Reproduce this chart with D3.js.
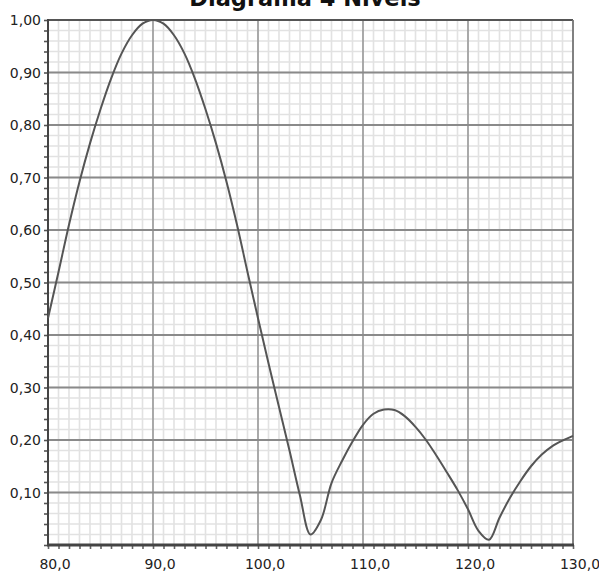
<!DOCTYPE html>
<html>
<head>
<meta charset="utf-8">
<script src="https://cdn.jsdelivr.net/npm/d3@7"></script>
<style>
  html, body { margin: 0; padding: 0; background: #fff; }
  svg { display: block; }
  .tick-label { font-family: "DejaVu Sans", sans-serif; font-size: 14px; fill: #222; }
  .title { font-family: "DejaVu Sans", sans-serif; font-weight: bold; font-size: 22.5px; fill: #111; }
</style>
</head>
<body>
<div id="chart"></div>
<script>
// Diagrama 4 Niveis
const angles = [80, 81, 82, 83, 84, 85, 86, 87, 88, 89, 90, 91, 92, 93, 94, 95, 96, 97, 98, 99,
  100, 101, 102, 103, 104, 105, 106, 107, 108, 109, 110, 111, 112, 113, 114, 115, 116, 117, 118, 119,
  120, 121, 122, 123, 124, 125, 126, 127, 128, 129, 130];
const levels = [0.432, 0.520, 0.610, 0.692, 0.765, 0.830, 0.888, 0.936, 0.971, 0.993, 1.000, 0.993, 0.971, 0.936, 0.888, 0.830, 0.765, 0.692, 0.610, 0.520,
  0.432, 0.346, 0.263, 0.180, 0.094, 0.020, 0.048, 0.118, 0.160, 0.197, 0.229, 0.250, 0.258, 0.257, 0.245, 0.225, 0.200, 0.170, 0.138, 0.105,
  0.068, 0.027, 0.010, 0.052, 0.090, 0.122, 0.150, 0.172, 0.188, 0.199, 0.208];

const title = "Diagrama 4 Niveis";
const xTicks = [80, 90, 100, 110, 120, 130];
const yTicks = [0.1, 0.2, 0.3, 0.4, 0.5, 0.6, 0.7, 0.8, 0.9, 1.0];
const xMinor = d3.range(80, 131, 1);
const yMinor = d3.range(0, 51).map(i => i / 50);

const width = 599, height = 572;
const margin = { top: 20, right: 26, bottom: 27, left: 48 };

const svg = d3.select('#chart').append('svg')
  .attr('width', width)
  .attr('height', height);

const x = d3.scaleLinear().domain([80, 130]).range([margin.left, width - margin.right]);
const y = d3.scaleLinear().domain([0, 1]).range([height - margin.bottom, margin.top]);

const fmt = (v, digits) => v.toFixed(digits).replace('.', ',');

// minor grid
const grid = svg.append('g');
grid.selectAll('.vminor').data(xMinor).enter().append('line')
  .attr('x1', d => x(d)).attr('x2', d => x(d))
  .attr('y1', y(0)).attr('y2', y(1))
  .attr('stroke', '#e2e2e2').attr('stroke-width', 1.6);
grid.selectAll('.hminor').data(yMinor).enter().append('line')
  .attr('y1', d => y(d)).attr('y2', d => y(d))
  .attr('x1', x(80)).attr('x2', x(130))
  .attr('stroke', '#e2e2e2').attr('stroke-width', 1.6);

// major grid
grid.selectAll('.vmajor').data(xTicks).enter().append('line')
  .attr('x1', d => x(d)).attr('x2', d => x(d))
  .attr('y1', y(0)).attr('y2', y(1))
  .attr('stroke', '#9a9a9a').attr('stroke-width', 1.6);
grid.selectAll('.hmajor').data(yTicks).enter().append('line')
  .attr('y1', d => y(d)).attr('y2', d => y(d))
  .attr('x1', x(80)).attr('x2', x(130))
  .attr('stroke', '#8a8a8a').attr('stroke-width', 2);

// frame: top and right
svg.append('line')
  .attr('x1', x(80)).attr('x2', x(130)).attr('y1', y(1)).attr('y2', y(1))
  .attr('stroke', '#555').attr('stroke-width', 2);
svg.append('line')
  .attr('x1', x(130)).attr('x2', x(130)).attr('y1', y(0)).attr('y2', y(1))
  .attr('stroke', '#777').attr('stroke-width', 1.6);

// axes with minor ticks
const yAxisMinor = d3.axisLeft(y).tickValues(yMinor).tickSize(4).tickFormat('');
const xAxisMinor = d3.axisBottom(x).tickValues(xMinor).tickSize(4).tickFormat('');

const yAx = svg.append('g').attr('transform', `translate(${x(80)},0)`).call(yAxisMinor);
yAx.select('.domain').remove();
yAx.selectAll('.tick line').attr('stroke', '#555').attr('stroke-width', 1.6);

const xAx = svg.append('g').attr('transform', `translate(0,${y(0)})`).call(xAxisMinor);
xAx.select('.domain').remove();
xAx.selectAll('.tick line').attr('stroke', '#666').attr('stroke-width', 1.6);

// axis lines
svg.append('line')
  .attr('x1', x(80)).attr('x2', x(80)).attr('y1', y(0)).attr('y2', y(1) - 1)
  .attr('stroke', '#444').attr('stroke-width', 2);
svg.append('line')
  .attr('x1', x(80) - 1).attr('x2', x(130) + 1).attr('y1', y(0)).attr('y2', y(0))
  .attr('stroke', '#444').attr('stroke-width', 3);

// tick labels
svg.selectAll('.ylab').data(yTicks).enter().append('text')
  .attr('class', 'tick-label')
  .attr('x', x(80) - 7)
  .attr('y', d => y(d))
  .attr('dy', '0.36em')
  .attr('text-anchor', 'end')
  .text(d => fmt(d, 2));

svg.selectAll('.xlab').data(xTicks).enter().append('text')
  .attr('class', 'tick-label')
  .attr('x', d => x(d) + 7)
  .attr('y', y(0) + 24)
  .attr('text-anchor', 'middle')
  .text(d => fmt(d, 1));

// curve (smoothed through the read points)
const points = angles.map((a, i) => [a, levels[i]]);
svg.append('path')
  .datum(points)
  .attr('fill', 'none')
  .attr('stroke', '#555')
  .attr('stroke-width', 2)
  .attr('stroke-linejoin', 'round')
  .attr('d', d3.line().curve(d3.curveCatmullRom.alpha(0.5)).x(d => x(d[0])).y(d => y(d[1])));

// title (cut at the top, as in the source)
svg.append('text')
  .attr('class', 'title')
  .attr('x', 305)
  .attr('y', 6)
  .attr('text-anchor', 'middle')
  .text(title);
</script>
</body>
</html>
